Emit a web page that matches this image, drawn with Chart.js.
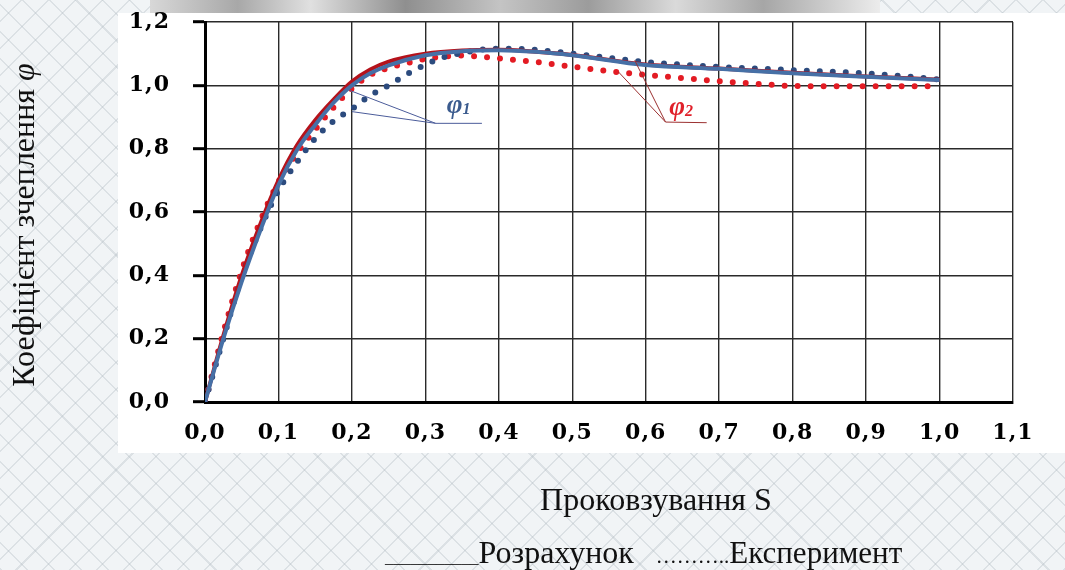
<!DOCTYPE html>
<html>
<head>
<meta charset="utf-8">
<script src="https://cdn.jsdelivr.net/npm/chart.js@4.4.1/dist/chart.umd.min.js"></script>
<style>
  html, body { margin:0; padding:0; }
  body {
    width:1065px; height:570px; overflow:hidden; position:relative;
    background-color:#f1f4f6;
    background-image:
      repeating-linear-gradient(45deg, rgba(175,185,192,0.32) 0px, rgba(175,185,192,0.32) 1.5px, transparent 1.5px, transparent 19px),
      repeating-linear-gradient(-45deg, rgba(175,185,192,0.32) 0px, rgba(175,185,192,0.32) 1.5px, transparent 1.5px, transparent 19px);
  }
  #strip { position:absolute; left:150px; top:0; width:730px; height:13px;
    background: linear-gradient(90deg, #d8d8d8 0%, #a8a8a8 12%, #e0e0e0 22%, #8f8f8f 35%, #c4c4c4 48%, #9c9c9c 60%, #dadada 72%, #a6a6a6 84%, #ececec 100%); }
  #panel { position:absolute; left:118px; top:13px; width:947px; height:440px; background:#fff; }
  #c { position:absolute; left:0; top:0; }
</style>
</head>
<body>
<div id="strip"></div>
<div id="panel"></div>
<canvas id="c" width="1065" height="570"></canvas>
<script>
// ---- data ----
const X_TICK_VALUES = [0, 0.1, 0.2, 0.3, 0.4, 0.5, 0.6, 0.7, 0.8, 0.9, 1.0, 1.1];
const X_TICK_LABELS = ['0,0','0,1','0,2','0,3','0,4','0,5','0,6','0,7','0,8','0,9','1,0','1,1'];
const Y_TICK_VALUES = [0, 0.2, 0.4, 0.6, 0.8, 1.0, 1.2];
const Y_TICK_LABELS = ['0,0','0,2','0,4','0,6','0,8','1,0','1,2'];

// calculation (solid lines)
const S_CALC    = [0, 0.025, 0.05, 0.075, 0.1, 0.125, 0.15, 0.175, 0.2, 0.225, 0.25, 0.3, 0.35, 0.4, 0.45, 0.5, 0.6, 0.7, 0.8, 0.9, 1.0];
const PHI1_CALC = [0, 0.2, 0.38, 0.54, 0.685, 0.795, 0.875, 0.945, 1.0, 1.038, 1.063, 1.095, 1.108, 1.111, 1.106, 1.095, 1.064, 1.052, 1.038, 1.027, 1.017];
const PHI2_CALC = [0, 0.21, 0.4, 0.56, 0.7, 0.81, 0.89, 0.955, 1.012, 1.05, 1.075, 1.1, 1.11, 1.112, 1.106, 1.096, 1.066, 1.053, 1.04, 1.028, 1.018];

// experiment (dotted lines)
const S_EXP    = [0, 0.025, 0.05, 0.075, 0.1, 0.125, 0.15, 0.175, 0.2, 0.225, 0.25, 0.275, 0.3, 0.325, 0.35, 0.375, 0.4, 0.45, 0.5, 0.55, 0.6, 0.65, 0.7, 0.75, 0.8, 0.85, 0.9, 0.95, 1.0];
const PHI1_EXP = [0, 0.2, 0.395, 0.545, 0.668, 0.757, 0.832, 0.887, 0.925, 0.968, 1.0, 1.035, 1.065, 1.089, 1.102, 1.112, 1.116, 1.112, 1.1, 1.087, 1.074, 1.065, 1.058, 1.053, 1.048, 1.043, 1.038, 1.029, 1.018];
const PHI2_EXP = [0, 0.22, 0.415, 0.57, 0.695, 0.785, 0.86, 0.93, 0.99, 1.033, 1.055, 1.07, 1.083, 1.091, 1.094, 1.09, 1.085, 1.074, 1.059, 1.045, 1.033, 1.023, 1.013, 1.005, 0.998, 0.997, 0.997, 0.997, 0.997];

// annotation anchors (data coordinates)
const LABEL_PHI1 = { s: 0.329, v: 0.913, sub: '1', color: '#3b5b8e' };
const LABEL_PHI2 = { s: 0.632, v: 0.905, sub: '2', color: '#e0202a' };
const LEADERS_PHI1 = { color: '#4b5c9a', starts: [[0.197, 0.984], [0.2, 0.917]], joint: [0.314, 0.88], end: [0.377, 0.88] };
const LEADERS_PHI2 = { color: '#9b3030', starts: [[0.563, 1.042], [0.585, 1.079]], joint: [0.627, 0.884], end: [0.683, 0.882] };

const Y_TITLE = 'Коефіцієнт зчеплення ';
const Y_TITLE_SYMBOL = 'φ';
const X_TITLE = 'Проковзування S';
const LEGEND_LINE = '___________';
const LEGEND_CALC = 'Розрахунок';
const LEGEND_DOTS = '\u2026\u2026\u2026..';
const LEGEND_EXP = 'Експеримент';

const pts = (xs, ys) => xs.map((x, i) => ({ x: x, y: ys[i] }));

const textPlugin = {
  id: 'textPlugin',
  beforeDraw(chart) { chart.ctx.letterSpacing = '1px'; },
  beforeDatasetsDraw(chart) { chart.ctx.letterSpacing = '0px'; },
  afterDraw(chart) {
    const ctx = chart.ctx, xs = chart.scales.x, ys = chart.scales.y;
    const px = (p) => [xs.getPixelForValue(p[0]), ys.getPixelForValue(p[1])];
    ctx.save();
    ctx.letterSpacing = '0px';
    // leader lines
    [LEADERS_PHI1, LEADERS_PHI2].forEach(L => {
      ctx.strokeStyle = L.color; ctx.lineWidth = 1; ctx.setLineDash([]);
      const j = px(L.joint), e = px(L.end);
      L.starts.forEach(s => {
        const a = px(s);
        ctx.beginPath(); ctx.moveTo(a[0], a[1]); ctx.lineTo(j[0], j[1]); ctx.stroke();
      });
      ctx.beginPath(); ctx.moveTo(j[0], j[1]); ctx.lineTo(e[0], e[1]); ctx.stroke();
    });
    // phi labels
    [LABEL_PHI1, LABEL_PHI2].forEach(L => {
      const x = xs.getPixelForValue(L.s), y = ys.getPixelForValue(L.v);
      ctx.fillStyle = L.color; ctx.textBaseline = 'alphabetic'; ctx.textAlign = 'left';
      ctx.font = 'italic bold 27px "Liberation Serif"';
      ctx.fillText('φ', x, y);
      const w = ctx.measureText('φ').width;
      ctx.font = 'italic bold 16px "Liberation Serif"';
      ctx.fillText(L.sub, x + w, y + 1);
    });
    // y-axis title
    ctx.fillStyle = '#111';
    ctx.save();
    ctx.translate(34, 225);
    ctx.rotate(-Math.PI / 2);
    ctx.font = '32px "Liberation Serif"';
    const w1 = ctx.measureText(Y_TITLE).width;
    ctx.font = 'italic 32px "Liberation Serif"';
    const w2 = ctx.measureText(Y_TITLE_SYMBOL).width;
    const start = -(w1 + w2) / 2;
    ctx.textAlign = 'left'; ctx.textBaseline = 'alphabetic';
    ctx.font = '32px "Liberation Serif"';
    ctx.fillText(Y_TITLE, start, 0);
    ctx.font = 'italic 32px "Liberation Serif"';
    ctx.fillText(Y_TITLE_SYMBOL, start + w1, 0);
    ctx.restore();
    // x-axis title
    ctx.font = '32px "Liberation Serif"';
    ctx.textAlign = 'center'; ctx.textBaseline = 'alphabetic';
    ctx.fillText(X_TITLE, 656, 510);
    // legend line
    ctx.textAlign = 'left';
    let x = 385; const base = 563;
    ctx.font = '17px "Liberation Serif"';
    ctx.fillText(LEGEND_LINE, x, base); x += ctx.measureText(LEGEND_LINE).width;
    ctx.font = '32px "Liberation Serif"';
    ctx.fillText(LEGEND_CALC, x, base); x += ctx.measureText(LEGEND_CALC).width + 22;
    ctx.font = '21px "Liberation Serif"';
    ctx.fillText(LEGEND_DOTS, x, base); x += ctx.measureText(LEGEND_DOTS).width;
    ctx.font = '31px "Liberation Serif"';
    ctx.fillText(LEGEND_EXP, x, base);
    ctx.restore();
  }
};

const tickFont = { family: '"DejaVu Serif"', weight: 'bold', size: 22 };

new Chart(document.getElementById('c'), {
  type: 'scatter',
  data: {
    datasets: [
      { label: 'φ1 розрахунок', data: pts(S_CALC, PHI1_CALC), showLine: true, borderColor: '#4670a6', borderWidth: 4,
        pointRadius: 0, cubicInterpolationMode: 'monotone', order: 0 },
      { label: 'φ2 розрахунок', data: pts(S_CALC, PHI2_CALC), showLine: true, borderColor: '#b5121b', borderWidth: 4,
        pointRadius: 0, cubicInterpolationMode: 'monotone', order: 1 },
      { label: 'φ1 експеримент', data: pts(S_EXP, PHI1_EXP), showLine: true, borderColor: '#2c4b7e', borderWidth: 6,
        borderDash: [0, 13], borderCapStyle: 'round', pointRadius: 0, cubicInterpolationMode: 'monotone', order: 2 },
      { label: 'φ2 експеримент', data: pts(S_EXP, PHI2_EXP), showLine: true, borderColor: '#e31b23', borderWidth: 6,
        borderDash: [0, 13], borderCapStyle: 'round', pointRadius: 0, cubicInterpolationMode: 'monotone', order: 3 }
    ]
  },
  options: {
    responsive: false, animation: false, devicePixelRatio: 1,
    layout: { padding: { top: 22, right: 52, bottom: 0, left: 0 } },
    plugins: { legend: { display: false }, tooltip: { enabled: false }, title: { display: false } },
    scales: {
      x: {
        type: 'linear', min: 0, max: 1.1,
        afterBuildTicks: s => { s.ticks = X_TICK_VALUES.map(v => ({ value: v })); },
        afterFit: s => { s.height = 168; s.paddingLeft = 0; s.paddingRight = 0; },
        grid: { color: '#2a2a2a', lineWidth: 1.4, drawTicks: false },
        border: { color: '#000', width: 3 },
        ticks: { font: tickFont, color: '#000', padding: 18, maxRotation: 0, autoSkip: false,
          callback: (v, i) => X_TICK_LABELS[i] }
      },
      y: {
        type: 'linear', min: 0, max: 1.2,
        afterBuildTicks: s => { s.ticks = Y_TICK_VALUES.map(v => ({ value: v })); },
        afterFit: s => { s.width = 205; s.paddingTop = 0; s.paddingBottom = 0; },
        grid: { color: '#2a2a2a', lineWidth: 1.4, tickLength: 12, tickColor: '#000', tickWidth: 3 },
        border: { color: '#000', width: 3 },
        ticks: { font: tickFont, color: '#000', padding: 23, autoSkip: false,
          callback: (v, i) => Y_TICK_LABELS[i] }
      }
    }
  },
  plugins: [textPlugin]
});
</script>
</body>
</html>
